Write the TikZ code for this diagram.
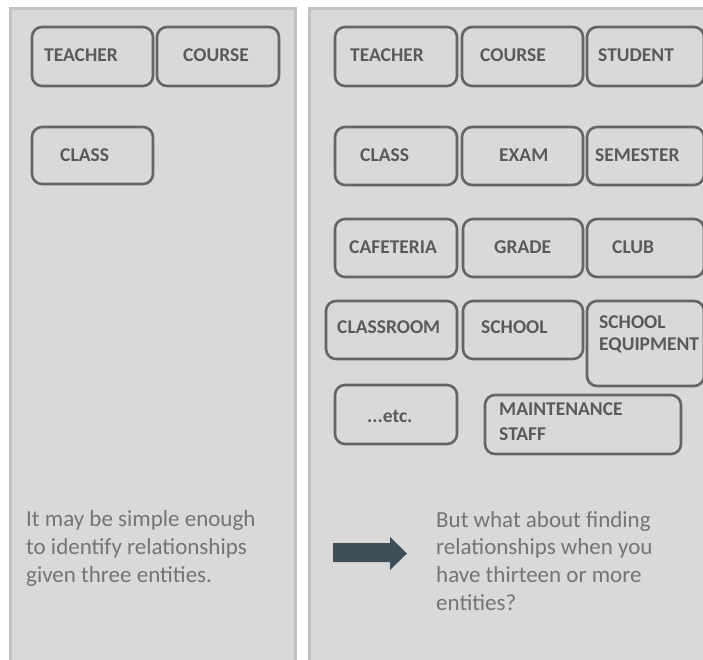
\documentclass[tikz,border=0pt]{standalone}
\usepackage{fontspec}
\setmainfont{Carlito}
\definecolor{panelfill}{HTML}{D9D9D9}
\definecolor{panelline}{HTML}{C2C2C2}
\definecolor{boxline}{HTML}{656565}
\definecolor{boxtext}{HTML}{5A5A5A}
\definecolor{bodytext}{HTML}{747474}
\definecolor{arrowfill}{HTML}{3E4F59}
\begin{document}
\begin{tikzpicture}[x=1pt,y=-1pt,
  panel/.style={fill=panelfill,draw=panelline,line width=3pt},
  entbox/.style={draw=boxline,line width=2.6pt,rounded corners=10pt},
  enttext/.style={anchor=west,inner sep=0pt,text=boxtext,font=\fontsize{19.5}{22}\selectfont\bfseries},
  bodystyle/.style={anchor=base west,inner sep=0pt,text=bodytext,align=left,font=\fontsize{23}{27.6}\selectfont}]
\useasboundingbox (0,0) rectangle (703,659);
\begin{scope}
\clip (0,0) rectangle (703,659);
\fill[white] (0,0) rectangle (703,659);
% panels
\draw[panel] (10,8) rectangle (295,680);
\draw[panel] (309,8) rectangle (720,680);
% left panel boxes
\draw[entbox] (32,27) rectangle (153,86) node[pos=0.5] (lboxa) {};
\draw[entbox] (157,27) rectangle (279,86) node[pos=0.5] (lboxb) {};
\draw[entbox] (32,127) rectangle (153,184) node[pos=0.5] (lboxc) {};
\node[enttext] (lteacher) at (44,55) {TEACHER};
\node[enttext] (lcourse) at (183,55) {COURSE};
\node[enttext] (lclass) at (60,155) {CLASS};
% right panel boxes
\draw[entbox] (335,27) rectangle (457,86) node[pos=0.5] (rboxa) {};
\draw[entbox] (462,27) rectangle (583,86) node[pos=0.5] (rboxb) {};
\draw[entbox] (587,27) rectangle (704,86) node[pos=0.5] (rboxc) {};
\draw[entbox] (335,127) rectangle (457,185) node[pos=0.5] (rboxd) {};
\draw[entbox] (462,127) rectangle (583,185) node[pos=0.5] (rboxe) {};
\draw[entbox] (587,127) rectangle (704,185) node[pos=0.5] (rboxf) {};
\draw[entbox] (335,219) rectangle (457,277) node[pos=0.5] (rboxg) {};
\draw[entbox] (463,219) rectangle (583,277) node[pos=0.5] (rboxh) {};
\draw[entbox] (587,219) rectangle (704,277) node[pos=0.5] (rboxi) {};
\draw[entbox] (326,301) rectangle (457,359) node[pos=0.5] (rboxj) {};
\draw[entbox] (463,301) rectangle (583,359) node[pos=0.5] (rboxk) {};
\draw[entbox] (587,301) rectangle (704,386) node[pos=0.5] (rboxl) {};
\draw[entbox] (335,385) rectangle (457,444) node[pos=0.5] (rboxm) {};
\draw[entbox] (485,395) rectangle (681,454) node[pos=0.5] (rboxn) {};
\node[enttext] (rteacher) at (350,55) {TEACHER};
\node[enttext] (rcourse) at (480,55) {COURSE};
\node[enttext] (rstudent) at (598,55) {STUDENT};
\node[enttext] (rclass) at (360,155) {CLASS};
\node[enttext] (rexam) at (499,155) {EXAM};
\node[enttext] (rsemester) at (595,155) {SEMESTER};
\node[enttext] (rcafeteria) at (349,247) {CAFETERIA};
\node[enttext] (rgrade) at (494,247) {GRADE};
\node[enttext] (rclub) at (612,247) {CLUB};
\node[enttext] (rclassroom) at (337,327) {CLASSROOM};
\node[enttext] (rschool) at (481,327) {SCHOOL};
\node[enttext,align=left,anchor=north west,font=\fontsize{19.5}{22}\selectfont\bfseries] (requip) at (599,316) {SCHOOL\\EQUIPMENT};
\node[enttext] (retc) at (367,416) {...etc.};
\node[enttext,align=left,anchor=north west,font=\fontsize{19.5}{25}\selectfont\bfseries] (rmaint) at (499,403) {MAINTENANCE\\STAFF};
% texts (anchored at the baseline of their last line)
\node[bodystyle] (ltext) at (26,582) {It may be simple enough\\to identify relationships\\given three entities.};
\node[bodystyle] (rtext) at (436,610) {But what about finding\\relationships when you\\have thirteen or more\\entities?};
% arrow
\fill[arrowfill] (333,543) -- (390,543) -- (390,537) -- (407,553.5) -- (390,570) -- (390,562) -- (333,562) -- cycle;
\end{scope}
\end{tikzpicture}
\end{document}
